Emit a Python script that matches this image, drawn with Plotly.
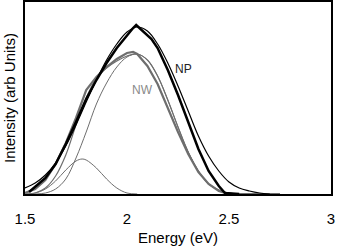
import plotly.graph_objects as go

# ---- data (arb. units) ----
np_data_e = [1.52, 1.55, 1.60, 1.65, 1.70, 1.75, 1.80, 1.85, 1.90, 1.95, 2.00, 2.03, 2.045,
             2.07, 2.10, 2.12, 2.15, 2.20, 2.25, 2.30, 2.35, 2.40, 2.45, 2.48, 2.55]
np_data_i = [2, 7, 16, 30, 50, 72, 95, 114, 131, 146, 159, 166, 169,
             164, 159, 155, 146, 124, 99, 72, 45, 23, 8, 1, 0]

np_fit_e = [1.50, 1.55, 1.60, 1.65, 1.70, 1.75, 1.80, 1.85, 1.90, 1.95, 2.00, 2.05, 2.10,
            2.15, 2.20, 2.25, 2.30, 2.35, 2.40, 2.45, 2.50, 2.55, 2.60, 2.65, 2.70]
np_fit_i = [6, 11, 19, 31, 48, 69, 92, 114, 134, 150, 162, 167, 163,
            150, 131, 108, 83, 58, 38, 23, 12, 6, 3, 1, 0]

nw_data_e = [1.50, 1.55, 1.60, 1.65, 1.70, 1.75, 1.80, 1.85, 1.90, 1.95, 2.00, 2.03, 2.05,
             2.10, 2.15, 2.20, 2.25, 2.30, 2.35, 2.40, 2.45, 2.50, 2.75]
nw_data_i = [1, 5, 14, 30, 51, 76, 104, 117, 127, 135, 141, 142, 140,
             128, 110, 86, 62, 40, 22, 10, 3, 0, 0]

nw_fit_e = [1.50, 1.55, 1.60, 1.65, 1.70, 1.75, 1.80, 1.85, 1.90, 1.95, 2.00, 2.05, 2.10,
            2.15, 2.20, 2.25, 2.30, 2.35, 2.40, 2.45, 2.50, 2.55]
nw_fit_i = [0, 1, 6, 18, 39, 69, 96, 116, 126, 133, 138, 140, 134,
            118, 94, 67, 42, 23, 10, 4, 1, 0]

nw_comp1_e = [1.50, 1.55, 1.60, 1.65, 1.70, 1.75, 1.78, 1.80, 1.85, 1.90, 1.95, 2.00, 2.05]
nw_comp1_i = [0, 1, 5, 13, 24, 33, 35, 34, 26, 15, 6, 1, 0]

nw_comp2_e = [1.55, 1.60, 1.65, 1.70, 1.75, 1.80, 1.85, 1.90, 1.95, 2.00, 2.05, 2.10,
              2.15, 2.20, 2.25, 2.30, 2.35, 2.40, 2.45, 2.50, 2.55]
nw_comp2_i = [0, 1, 5, 15, 36, 62, 90, 111, 127, 137, 140, 134,
              118, 94, 67, 42, 23, 10, 4, 1, 0]

x_ticks = [1.5, 2, 2.5, 3]
x_tick_text = ["1.5", "2", "2.5", "3"]

GRAY = "#6e6e6e"

fig = go.Figure()
fig.add_trace(go.Scatter(x=nw_comp1_e, y=nw_comp1_i, mode="lines", line=dict(color=GRAY, width=1, shape="spline")))
fig.add_trace(go.Scatter(x=nw_comp2_e, y=nw_comp2_i, mode="lines", line=dict(color=GRAY, width=1, shape="spline")))
fig.add_trace(go.Scatter(x=nw_fit_e, y=nw_fit_i, mode="lines", line=dict(color=GRAY, width=1.2, shape="spline")))
fig.add_trace(go.Scatter(x=nw_data_e, y=nw_data_i, mode="lines", line=dict(color=GRAY, width=2.2)))
fig.add_trace(go.Scatter(x=np_fit_e, y=np_fit_i, mode="lines", line=dict(color="black", width=1.2, shape="spline")))
fig.add_trace(go.Scatter(x=np_data_e, y=np_data_i, mode="lines", line=dict(color="black", width=2.5)))

fig.add_annotation(x=2.275, y=125, text="NP", showarrow=False, font=dict(color="#222222", size=12))
fig.add_annotation(x=2.078, y=104, text="NW", showarrow=False, font=dict(color="#8a8a8a", size=12))

fig.update_layout(
    width=337, height=249,
    margin=dict(l=25, r=6, t=2, b=55),
    paper_bgcolor="white", plot_bgcolor="white",
    showlegend=False,
    font=dict(family="Liberation Sans, Arial, sans-serif", color="black"),
)
fig.update_xaxes(range=[1.5, 3], tickvals=x_ticks, ticktext=x_tick_text, automargin=False,
                 showgrid=False, zeroline=False, showline=True, mirror=True,
                 linecolor="black", linewidth=2, ticks="", tickfont=dict(size=15),
                 ticklabelstandoff=10,
                 title=dict(text="Energy (eV)", font=dict(size=15), standoff=6))
fig.update_yaxes(range=[0, 192], showticklabels=False, automargin=False,
                 showgrid=False, zeroline=False, showline=True, mirror=True,
                 linecolor="black", linewidth=2, ticks="",
                 title=dict(text="Intensity (arb Units)", font=dict(size=15), standoff=4))

fig.write_html("out.html", config={"displayModeBar": False},
               post_script="document.body.style.margin='0';document.body.style.overflow='hidden';")
